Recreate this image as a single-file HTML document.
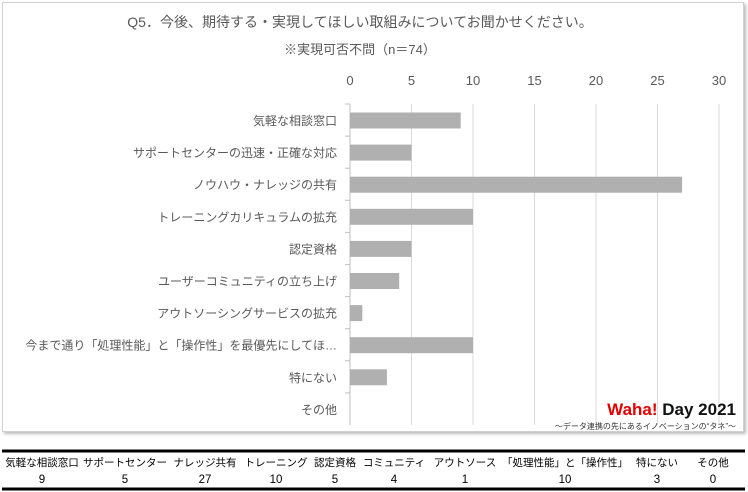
<!DOCTYPE html>
<html><head><meta charset="utf-8"><style>
body{margin:0;width:748px;height:492px;background:#fff;font-family:"Liberation Sans","Noto Sans CJK JP",sans-serif;overflow:hidden;position:relative}
.frame{position:absolute;left:2px;top:2px;width:740px;height:428px;border:1px solid #d0d0d0;box-shadow:2px 2px 3px #bbb;background:#fff}
svg{position:absolute;left:0;top:0}
</style></head><body>
<div class="frame"></div>
<svg width="748" height="492" id="chart">
<text x="360" y="27" font-size="14" fill="#595959" text-anchor="middle">Q5．今後、期待する・実現してほしい取組みについてお聞かせください。</text>
<text x="360" y="54" font-size="13" fill="#595959" text-anchor="middle">※実現可否不問（n＝74）</text>
<g id="grid"></g><g id="bars"></g><g id="labels"></g>
<text x="736" y="415" font-size="17" font-weight="bold" text-anchor="end"><tspan fill="#e00000">Waha!</tspan><tspan fill="#111"> Day 2021</tspan></text>
<text x="736" y="429" font-size="8" fill="#333" text-anchor="end">～データ連携の先にあるイノベーションの“タネ”～</text>
<line x1="2" y1="451" x2="745" y2="451" stroke="#000" stroke-width="3"/>
<line x1="2" y1="489" x2="745" y2="489" stroke="#000" stroke-width="3"/>
<g id="table"></g>
</svg>
<script>
const categories=["気軽な相談窓口","サポートセンターの迅速・正確な対応","ノウハウ・ナレッジの共有","トレーニングカリキュラムの拡充","認定資格","ユーザーコミュニティの立ち上げ","アウトソーシングサービスの拡充","今まで通り「処理性能」と「操作性」を最優先にしてほ…","特にない","その他"];
const values=[9,5,27,10,5,4,1,10,3,0];
const ticks=[0,5,10,15,20,25,30];
const shortNames=["気軽な相談窓口","サポートセンター","ナレッジ共有","トレーニング","認定資格","コミュニティ","アウトソース","「処理性能」と「操作性」","特にない","その他"];
const colX=[42,125,205,276,335,394,465,565,657,713];
const NS="http://www.w3.org/2000/svg";
const x=v=>350+v*12.3;
const rowTop=104,rowH=32.1;
const y=i=>rowTop+i*rowH;
function mk(t,a,p){const e=document.createElementNS(NS,t);for(const k in a)e.setAttribute(k,a[k]);p.appendChild(e);return e;}
const grid=document.getElementById('grid'),bars=document.getElementById('bars'),labels=document.getElementById('labels'),table=document.getElementById('table');
ticks.forEach(t=>{
 const l=mk('line',{x1:x(t),x2:x(t),y1:rowTop,y2:y(10),stroke:t===0?'#bfbfbf':'#d9d9d9','stroke-width':1},grid);
 
 
 const tx=mk('text',{x:x(t),y:85,'font-size':13,fill:'#595959','text-anchor':'middle'},grid);tx.textContent=t;
 
 
});
categories.forEach((c,i)=>{
 const tk=mk('line',{x1:345,x2:350,y1:y(i),y2:y(i),stroke:'#bfbfbf'},grid);
 
 
 const r=mk('rect',{x:x(0),y:y(i)+8.5,width:values[i]*12.3,height:16,fill:'#b0b0b0'},bars);
 
 
 const t=mk('text',{x:337,y:y(i)+21,'font-size':12,fill:'#595959','text-anchor':'end'},labels);t.textContent=c;
 
 
 const h=mk('text',{x:colX[i],y:466,'font-size':10.5,fill:'#000','text-anchor':'middle'},table);h.textContent=shortNames[i];
 
 
 const v=mk('text',{x:colX[i],y:483,'font-size':11.5,fill:'#000','text-anchor':'middle'},table);v.textContent=values[i];
 
 
});
</script>
</body></html>
